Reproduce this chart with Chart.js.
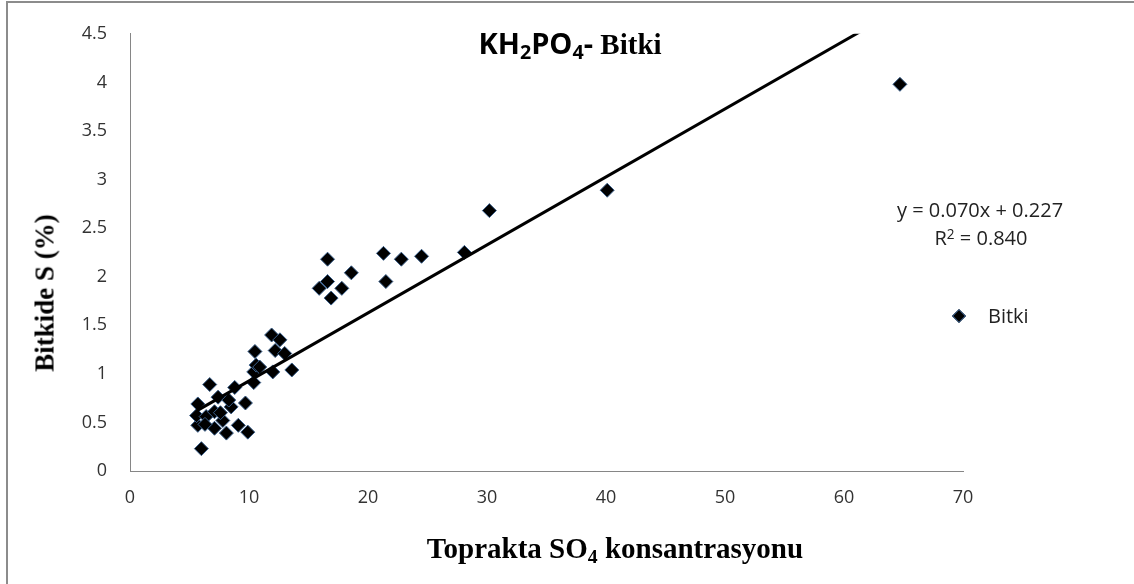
<!DOCTYPE html>
<html><head><meta charset="utf-8">
<script src="https://cdn.jsdelivr.net/npm/chart.js@4.4.1/dist/chart.umd.min.js"></script>
<style>
html,body{margin:0;padding:0;background:#fff;}
#wrap{position:relative;width:1134px;height:584px;overflow:hidden;background:#fff;}
#frame{position:absolute;left:6px;top:1px;width:1300px;height:700px;border-left:2px solid #8c8c8c;border-top:2px solid #8c8c8c;}
canvas{position:absolute;left:0;top:0;}
.t{position:absolute;white-space:nowrap;color:#000;line-height:1;}
.c{transform:translate(-50%,-50%);}
sub{font-size:0.68em;vertical-align:-0.28em;line-height:0;}
sup{font-size:0.68em;vertical-align:0.45em;line-height:0;}
#title{left:570px;top:43px;font-size:29px;}
#title .a{font-family:'Open Sans',sans-serif;font-weight:700;}
#title .b{font-family:'Liberation Serif',serif;font-weight:700;}
#xt{left:615px;top:548px;font-family:'Liberation Serif',serif;font-weight:700;font-size:29px;}
#yt{left:45px;top:293px;font-family:'Liberation Serif',serif;font-weight:700;font-size:27px;transform:translate(-50%,-50%) rotate(-90deg);}
.eq{font-family:'Open Sans',sans-serif;font-size:20px;color:#222;}
#leg{left:988px;top:316px;transform:translate(0,-50%);font-family:'Open Sans',sans-serif;font-size:20px;color:#222;}
#legm{position:absolute;left:954px;top:311px;width:10px;height:10px;background:#000;border:1px solid #3a5f8a;box-sizing:border-box;transform:rotate(45deg);}
</style></head><body>
<div id="wrap">
<div id="frame"></div>
<canvas id="c" width="1134" height="584"></canvas>
<div class="t c" id="title"><span class="a">KH<sub>2</sub>PO<sub>4</sub>-</span> <span class="b">Bitki</span></div>
<div class="t c" id="xt">Toprakta SO<sub>4</sub> konsantrasyonu</div>
<div class="t" id="yt">Bitkide S (%)</div>
<div class="t c eq" style="left:980px;top:210px;">y = 0.070x + 0.227</div>
<div class="t c eq" style="left:981px;top:238px;">R<sup>2</sup> = 0.840</div>
<div id="legm"></div>
<div class="t" id="leg">Bitki</div>
</div>
<script>
// Data
const seriesName = 'Bitki';
const soilSO4 = [6.0, 5.7, 5.6, 5.7, 6.4, 6.7, 7.1, 7.1, 7.4, 7.8, 8.1, 8.5, 8.3, 8.8, 9.1, 9.7, 9.9, 7.6, 6.3,
  10.4, 10.4, 10.6, 10.5, 10.9, 12.0, 11.9, 12.6, 12.2, 13.0, 13.6,
  15.9, 16.6, 16.6, 16.9, 17.8, 18.6, 21.3, 21.5, 22.8, 24.5, 28.1, 30.2, 40.1, 64.7];
const plantS = [0.23, 0.47, 0.57, 0.69, 0.56, 0.89, 0.44, 0.61, 0.76, 0.52, 0.39, 0.66, 0.73, 0.86, 0.47, 0.70, 0.40, 0.60, 0.48,
  0.91, 1.02, 1.09, 1.23, 1.07, 1.02, 1.40, 1.35, 1.24, 1.21, 1.04,
  1.88, 1.95, 2.18, 1.78, 1.88, 2.04, 2.24, 1.95, 2.18, 2.21, 2.25, 2.68, 2.89, 3.98];
const trendCoef = [0.070, 0.227]; // slope, intercept (from the printed equation)
const xTickValues = [0, 10, 20, 30, 40, 50, 60, 70];
const yTickValues = [0, 0.5, 1, 1.5, 2, 2.5, 3, 3.5, 4, 4.5];

const points = soilSO4.map((x, i) => ({x: x, y: plantS[i]}));
const xMin = Math.min(...soilSO4), xMax = Math.max(...soilSO4);
const trend = [xMin, xMax].map(x => ({x: x, y: trendCoef[0] * x + trendCoef[1]}));

const tickFont = {family: "'Open Sans', sans-serif", size: 18};
new Chart(document.getElementById('c'), {
  type: 'scatter',
  data: {
    datasets: [
      {label: 'Linear (' + seriesName + ')', type: 'line', data: trend, borderColor: '#000', borderWidth: 3,
       pointRadius: 0, fill: false, clip: 0, tension: 0},
      {label: seriesName, data: points, pointStyle: 'rectRot', pointRadius: 7, pointHoverRadius: 7,
       backgroundColor: '#000', borderColor: '#3a5f8a', borderWidth: 1}
    ]
  },
  options: {
    responsive: false,
    animation: false,
    events: [],
    layout: {padding: {left: 0, top: 33, right: 171, bottom: 0}},
    plugins: {legend: {display: false}, title: {display: false}, tooltip: {enabled: false}},
    scales: {
      x: {
        type: 'linear', min: xTickValues[0], max: xTickValues[xTickValues.length - 1],
        afterBuildTicks: s => { s.ticks = xTickValues.map(v => ({value: v})); },
        afterFit: s => { s.height = 113; },
        grid: {display: false, drawTicks: false},
        border: {display: true, color: '#868686', width: 1},
        ticks: {font: tickFont, color: '#333', padding: 16, callback: v => String(v), maxRotation: 0}
      },
      y: {
        type: 'linear', min: yTickValues[0], max: yTickValues[yTickValues.length - 1],
        afterBuildTicks: s => { s.ticks = yTickValues.map(v => ({value: v})); },
        afterFit: s => { s.width = 130; },
        grid: {display: false, drawTicks: false},
        border: {display: true, color: '#868686', width: 1},
        ticks: {font: tickFont, color: '#333', padding: 23, callback: v => String(v)}
      }
    }
  }
});
</script>
</body></html>
